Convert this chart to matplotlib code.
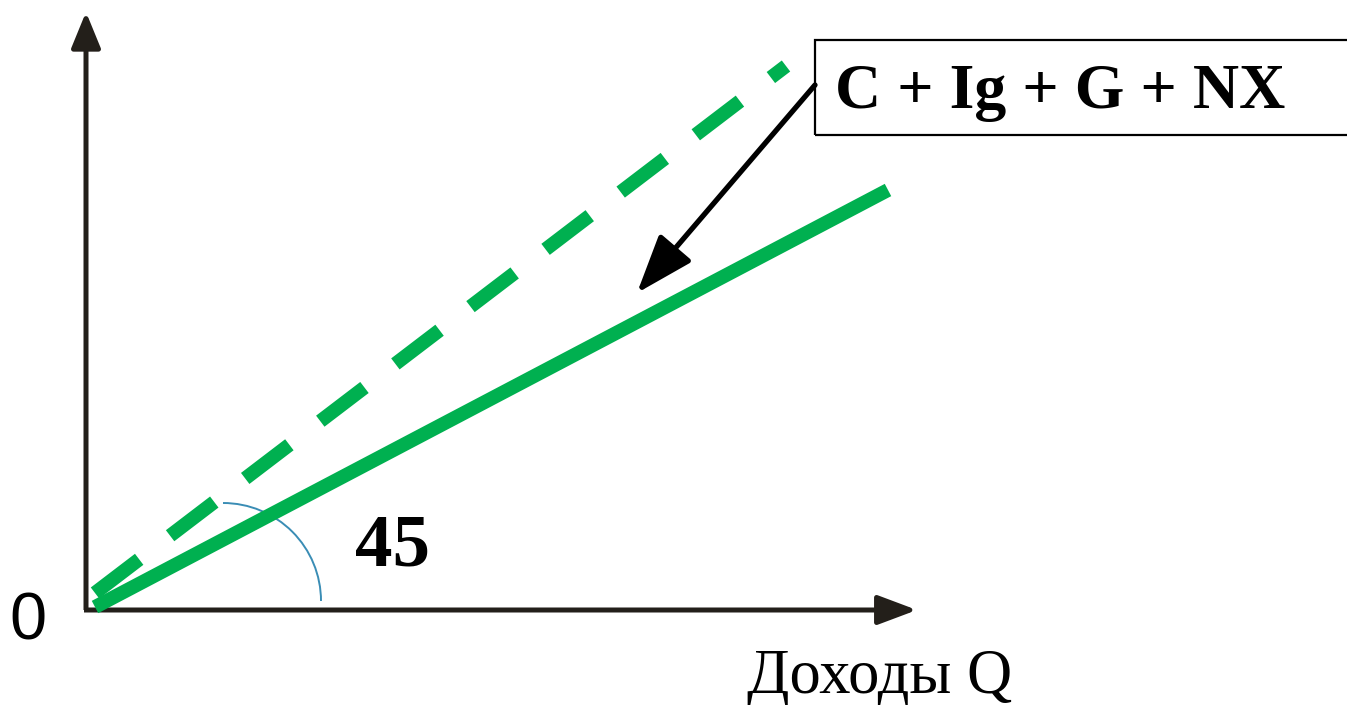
import numpy as np
import matplotlib.pyplot as plt
from matplotlib.patches import FancyArrowPatch, Arc, Rectangle

# diagram coordinates: origin of the Q axis at (0, 0), one unit = one pixel
q_axis_end = 831
y_axis_end = 598

# aggregate expenditure lines (income Q -> spending)
q_new = [9, 802]
spend_new = [3, 420]          # solid line after the shift
q_old = [9, 700]
spend_old = [17, 544]         # dashed line before the shift

label_curve = 'C + Ig + G + NX'
label_angle = '45'
label_origin = '0'
label_xaxis = 'Доходы Q'

green = '#00b050'
axis_col = '#231f1a'

fig = plt.figure(figsize=(13.47, 7.05), dpi=100)
ax = fig.add_axes([0, 0, 1, 1])
ax.set_xlim(-86, 1261)
ax.set_ylim(-95, 610)
ax.axis('off')

# axes with arrows
ax.add_patch(FancyArrowPatch((0, 0), (0, y_axis_end), arrowstyle='-|>,head_length=22,head_width=9',
                             mutation_scale=1, lw=3.6, color=axis_col, shrinkA=0, shrinkB=0,
                             capstyle='butt'))
ax.add_patch(FancyArrowPatch((-2, 0), (q_axis_end, 0), arrowstyle='-|>,head_length=24,head_width=9',
                             mutation_scale=1, lw=3.6, color=axis_col, shrinkA=0, shrinkB=0,
                             capstyle='butt'))

# expenditure lines
ax.plot(q_old, spend_old, color=green, lw=10, linestyle=(0, (4.0, 2.8)), dash_capstyle='butt')
ax.plot(q_new, spend_new, color=green, lw=10, solid_capstyle='butt')

# angle arc
ax.add_patch(Arc((137, 9), 196, 196, theta1=0, theta2=90, color='#3a8db5', lw=1.4))

# label box and pointer
ax.add_patch(Rectangle((729, 475), 535, 95, fill=False, ec='black', lw=1.6))
ax.text(749, 517, label_curve, fontsize=46, fontweight='bold', family='Liberation Serif',
        ha='left', va='center')
ax.add_patch(FancyArrowPatch((729, 525), (551, 317), arrowstyle='-|>,head_length=36,head_width=13',
                             mutation_scale=1, lw=3.8, color='black', shrinkA=0, shrinkB=0))

ax.text(306, 63, label_angle, fontsize=54, fontweight='bold', family='Liberation Serif',
        ha='center', va='center')
ax.text(-58, -13, label_origin, fontsize=48, family='Liberation Sans', ha='center', va='center')
ax.text(794, -68, label_xaxis, fontsize=45, family='Liberation Serif', ha='center', va='center')

fig.savefig('out.png', dpi=100)
